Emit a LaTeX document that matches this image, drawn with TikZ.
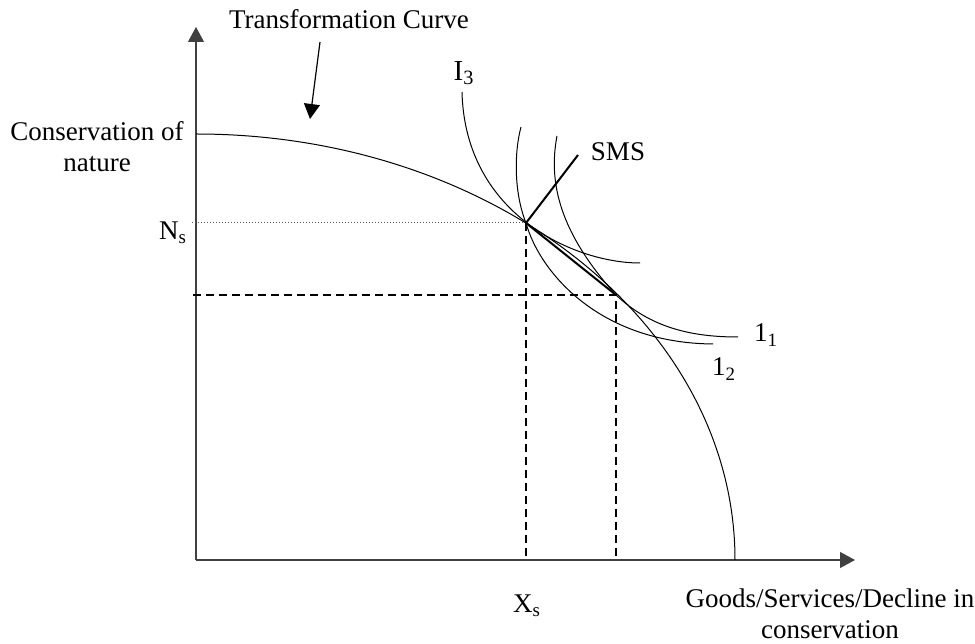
\documentclass[tikz,border=0pt]{standalone}
\usepackage{fontspec}
\setmainfont{Liberation Serif}
\usetikzlibrary{arrows.meta}

\begin{document}
\begin{tikzpicture}[x=0.5pt,y=0.5pt,>={Triangle[length=7.5pt,width=8pt]},font=\fontsize{13.5}{15.5}\selectfont]
\useasboundingbox (0,0) rectangle (975,643);
% axes
\coordinate (O) at (196,83);
\coordinate (ytop) at (196,616);
\coordinate (xend) at (855,83);
\draw[->,gray!50!black,line width=0.55pt] (O) -- (ytop);
\draw[->,gray!50!black,line width=0.55pt] (O) -- (xend);
\node[align=center] (ylab) at (97,496) {Conservation of\\nature};
\node[align=center] (xlab) at (830,29) {Goods/Services/Decline in\\conservation};
% transformation curve
\coordinate (T0) at (196,509);
\draw[line width=0.5pt] (T0) arc[start angle=90,end angle=0,x radius=539,y radius=426];
\node (tclab) at (349,624) {Transformation Curve};
\coordinate (tcfrom) at (320,601);
\coordinate (tcto) at (310,524);
\draw[->,line width=0.6pt] (tcfrom) -- (tcto);
% equilibrium and second point
\coordinate (S) at (526,420);
\coordinate (P) at (616,348);
\coordinate (Nsy) at (192,420);
\coordinate (Xsx) at (526,83);
\coordinate (Py) at (193,348);
\coordinate (Px) at (616,83);
\draw[densely dotted,gray!70!black,line width=0.5pt] (Nsy) -- (S);
\draw[dashed,dash pattern=on 4pt off 2.5pt,line width=0.9pt] (S) -- (Xsx);
\draw[dashed,dash pattern=on 4pt off 2.5pt,line width=0.9pt] (Py) -- (P) -- (Px);
\node (Ns) at (173,410) {N\textsubscript{s}};
\node (Xs) at (527,37) {X\textsubscript{s}};
% indifference curves
\draw[line width=0.5pt] (462,551) .. controls (465,428) and (575,380) .. (640,380);
\draw[line width=0.5pt] (521,516) .. controls (514,490) and (514,450) .. (S)
  .. controls (540,370) and (600,300) .. (713,299);
\draw[line width=0.5pt] (557,507) .. controls (548,460) and (560,410) .. (P)
  .. controls (650,316) and (690,306) .. (738,306);
\node[font=\fontsize{14.5}{16}\selectfont] (I3) at (464,570) {I\textsubscript{3}};
\node (I1) at (766,308) {1\textsubscript{1}};
\node (I2) at (724,274) {1\textsubscript{2}};
% SMS line and tangent
\coordinate (smsend) at (578,488);
\draw[line width=1pt] (S) -- (smsend);
\draw[line width=1pt] (S) -- (P);
\node (sms) at (618,491) {SMS};
\end{tikzpicture}
\end{document}
